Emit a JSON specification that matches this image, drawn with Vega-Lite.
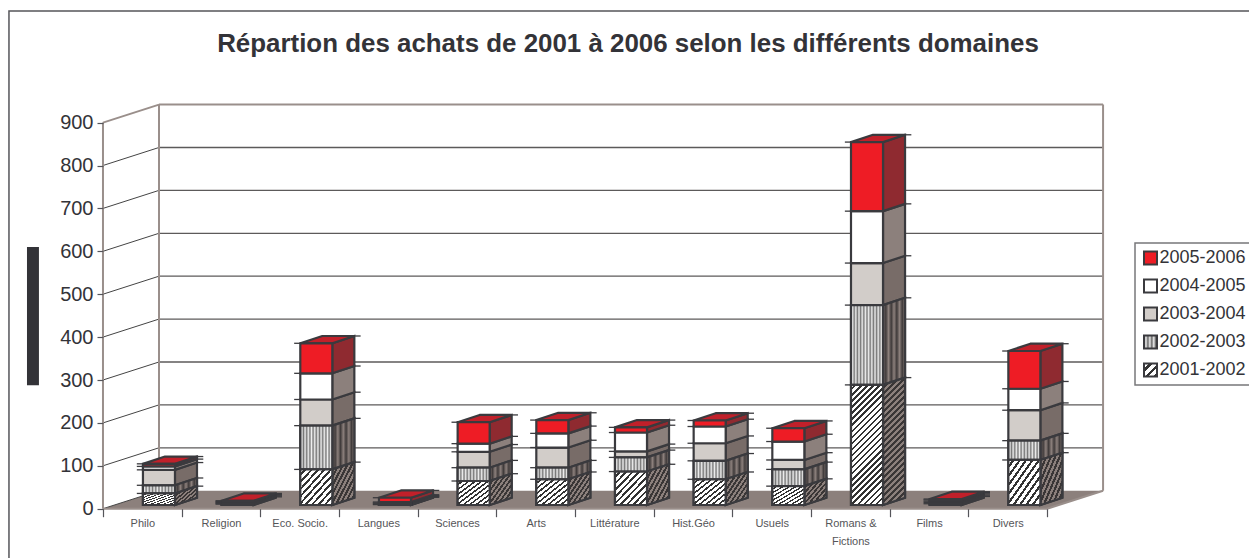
{
"$schema":"https://vega.github.io/schema/vega-lite/v6.json",
"width":1249,"height":558,"padding":0,
"autosize":{"type":"none"},
"background":"white",
"title":{"text":"Répartion des achats de 2001 à 2006 selon les différents domaines","frame":"group","anchor":"middle","orient":"top","offset":-58,"dx":3.5,"font":"Liberation Sans","fontSize":25.9,"fontWeight":"bold","color":"#333338"},
"data":{"name":"bars"},
"transform":[{"stack":"value","groupby":["domain"],"sort":[{"field":"period","order":"ascending"}],"as":["s0","s1"]},
  {"calculate":"[0,1]","as":"d"},{"flatten":["d"]},
  {"calculate":"datum.idx+0.915+datum.d*0.28","as":"sx"},
  {"calculate":"datum.idx+0.508+datum.d*0.28","as":"tx"},
  {"calculate":"datum.s0+8.6+datum.d*17","as":"sy0"},
  {"calculate":"datum.s1+8.6+datum.d*17","as":"sy1"},
  {"calculate":"datum.idx+0.43","as":"la"},{"calculate":"datum.idx+0.508","as":"lb"},
  {"calculate":"datum.idx+1.195","as":"ra"},{"calculate":"datum.idx+1.275","as":"rb"}],
"datasets":{
"bars":[
{"domain":"Philo","idx":0,"period":"2001-2002","value":27},{"domain":"Philo","idx":0,"period":"2002-2003","value":19},{"domain":"Philo","idx":0,"period":"2003-2004","value":36},{"domain":"Philo","idx":0,"period":"2004-2005","value":8},{"domain":"Philo","idx":0,"period":"2005-2006","value":6},
{"domain":"Religion","idx":1,"period":"2001-2002","value":2},{"domain":"Religion","idx":1,"period":"2002-2003","value":2},{"domain":"Religion","idx":1,"period":"2003-2004","value":2},{"domain":"Religion","idx":1,"period":"2004-2005","value":2},{"domain":"Religion","idx":1,"period":"2005-2006","value":2},
{"domain":"Eco. Socio.","idx":2,"period":"2001-2002","value":83},{"domain":"Eco. Socio.","idx":2,"period":"2002-2003","value":102},{"domain":"Eco. Socio.","idx":2,"period":"2003-2004","value":61},{"domain":"Eco. Socio.","idx":2,"period":"2004-2005","value":61},{"domain":"Eco. Socio.","idx":2,"period":"2005-2006","value":70},
{"domain":"Langues","idx":3,"period":"2001-2002","value":1},{"domain":"Langues","idx":3,"period":"2002-2003","value":2},{"domain":"Langues","idx":3,"period":"2003-2004","value":2},{"domain":"Langues","idx":3,"period":"2004-2005","value":2},{"domain":"Langues","idx":3,"period":"2005-2006","value":10},
{"domain":"Sciences","idx":4,"period":"2001-2002","value":56},{"domain":"Sciences","idx":4,"period":"2002-2003","value":31},{"domain":"Sciences","idx":4,"period":"2003-2004","value":37},{"domain":"Sciences","idx":4,"period":"2004-2005","value":19},{"domain":"Sciences","idx":4,"period":"2005-2006","value":50},
{"domain":"Arts","idx":5,"period":"2001-2002","value":60},{"domain":"Arts","idx":5,"period":"2002-2003","value":27},{"domain":"Arts","idx":5,"period":"2003-2004","value":47},{"domain":"Arts","idx":5,"period":"2004-2005","value":33},{"domain":"Arts","idx":5,"period":"2005-2006","value":31},
{"domain":"Littérature","idx":6,"period":"2001-2002","value":78},{"domain":"Littérature","idx":6,"period":"2002-2003","value":33},{"domain":"Littérature","idx":6,"period":"2003-2004","value":14},{"domain":"Littérature","idx":6,"period":"2004-2005","value":44},{"domain":"Littérature","idx":6,"period":"2005-2006","value":12},
{"domain":"Hist.Géo","idx":7,"period":"2001-2002","value":60},{"domain":"Hist.Géo","idx":7,"period":"2002-2003","value":43},{"domain":"Hist.Géo","idx":7,"period":"2003-2004","value":41},{"domain":"Hist.Géo","idx":7,"period":"2004-2005","value":39},{"domain":"Hist.Géo","idx":7,"period":"2005-2006","value":14},
{"domain":"Usuels","idx":8,"period":"2001-2002","value":44},{"domain":"Usuels","idx":8,"period":"2002-2003","value":39},{"domain":"Usuels","idx":8,"period":"2003-2004","value":22},{"domain":"Usuels","idx":8,"period":"2004-2005","value":43},{"domain":"Usuels","idx":8,"period":"2005-2006","value":31},
{"domain":"Romans & Fictions","idx":9,"period":"2001-2002","value":280},{"domain":"Romans & Fictions","idx":9,"period":"2002-2003","value":186},{"domain":"Romans & Fictions","idx":9,"period":"2003-2004","value":98},{"domain":"Romans & Fictions","idx":9,"period":"2004-2005","value":121},{"domain":"Romans & Fictions","idx":9,"period":"2005-2006","value":161},
{"domain":"Films","idx":10,"period":"2001-2002","value":3},{"domain":"Films","idx":10,"period":"2002-2003","value":3},{"domain":"Films","idx":10,"period":"2003-2004","value":3},{"domain":"Films","idx":10,"period":"2004-2005","value":3},{"domain":"Films","idx":10,"period":"2005-2006","value":2},
{"domain":"Divers","idx":11,"period":"2001-2002","value":105},{"domain":"Divers","idx":11,"period":"2002-2003","value":45},{"domain":"Divers","idx":11,"period":"2003-2004","value":71},{"domain":"Divers","idx":11,"period":"2004-2005","value":50},{"domain":"Divers","idx":11,"period":"2005-2006","value":88}
],
"grid":[{"v":0},{"v":100},{"v":200},{"v":300},{"v":400},{"v":500},{"v":600},{"v":700},{"v":800},{"v":900}],
"floor":[{"fy":0,"fx":0,"fx2":12},{"fy":42,"fx":0.712,"fx2":12.712}],
"frame":[{"x":-1.195,"x2":16,"y":1160,"y2":-160}],
"lbox":[{"x":13.118,"x2":16,"y":619.3,"y2":288.3}],
"blk":[{"x":-0.966,"x2":-0.814,"y":610,"y2":288}],
"walls":[{"x":0.712,"x2":0.712,"y":42,"y2":942},{"x":12.712,"x2":12.712,"y":42,"y2":942},{"x":0.712,"x2":12.712,"y":942,"y2":942},{"x":0,"x2":0.712,"y":900,"y2":942},{"x":0,"x2":0,"y":0,"y2":900},{"x":0,"x2":12,"y":0,"y2":0},{"x":12,"x2":12.712,"y":0,"y2":42}]
},
"resolve":{"scale":{"fill":"independent"}},
"layer":[
{"data":{"name":"frame"},"mark":{"type":"rect","fill":"white","stroke":"#55555a","strokeWidth":1.5},
 "encoding":{
  "x":{"field":"x","type":"quantitative","title":null,"scale":{"domain":[-1.309,14.567],"nice":false,"zero":false},
   "axis":{"zindex":1,"values":[0,0.5,1,1.5,2,2.5,3,3.5,4,4.5,5,5.5,6,6.5,7,7.5,8,8.5,9,9.5,10,10.5,11,11.5,12],"orient":"bottom","offset":-49.3,"domain":false,"grid":false,"tickSize":8,"tickColor":"#55555a","tickWidth":1.2,"tickOpacity":{"condition":{"test":"datum.value%1==0","value":1},"value":0},"labelAngle":0,"labelOverlap":false,"labelBound":false,"labelFlush":false,"labelPadding":1,"labelFont":"Liberation Sans","labelFontSize":11,"labelColor":"#555558","labelLineHeight":18,"labelExpr":"datum.value%1==0 ? '' : ['Philo','Religion','Eco. Socio.','Langues','Sciences','Arts','Littérature','Hist.Géo','Usuels',['Romans &','Fictions'],'Films','Divers'][floor(datum.value)]"}},
  "x2":{"field":"x2"},
  "y":{"field":"y","type":"quantitative","title":null,"scale":{"domain":[-114.9,1185.8],"nice":false,"zero":false},
   "axis":{"zindex":1,"values":[0,100,200,300,400,500,600,700,800,900],"orient":"left","offset":-103,"domain":false,"grid":false,"tickSize":6,"tickColor":"#55555a","tickWidth":1.2,"labelFont":"Liberation Sans","labelFontSize":20,"labelColor":"#333338","labelPadding":4,"labelBound":false,"labelFlush":false,"labelOverlap":false}},
  "y2":{"field":"y2"}}},
{"data":{"name":"lbox"},"mark":{"type":"rect","fill":"white","stroke":"#77777a","strokeWidth":1.5},
 "encoding":{"x":{"field":"x","type":"quantitative","title":null,"scale":{"domain":[-1.309,14.567],"nice":false,"zero":false}},"x2":{"field":"x2"},"y":{"field":"y","type":"quantitative","title":null,"scale":{"domain":[-114.9,1185.8],"nice":false,"zero":false}},"y2":{"field":"y2"}}},
{"data":{"name":"blk"},"mark":{"type":"rect","fill":"#333338"},
 "encoding":{"x":{"field":"x","type":"quantitative","title":null,"scale":{"domain":[-1.309,14.567],"nice":false,"zero":false}},"x2":{"field":"x2"},"y":{"field":"y","type":"quantitative","title":null,"scale":{"domain":[-114.9,1185.8],"nice":false,"zero":false}},"y2":{"field":"y2"}}},
{"data":{"name":"floor"},"mark":{"type":"area","orient":"horizontal","fill":"#8c807c"},
 "encoding":{"y":{"field":"fy","type":"quantitative","title":null,"scale":{"domain":[-114.9,1185.8],"nice":false,"zero":false}},"x":{"field":"fx","type":"quantitative","title":null,"scale":{"domain":[-1.309,14.567],"nice":false,"zero":false}},"x2":{"field":"fx2"}}},
{"data":{"name":"grid"},"transform":[{"filter":"datum.v>0 && datum.v<900"},{"calculate":"datum.v+42","as":"bv"},{"calculate":"0.712","as":"a"},{"calculate":"12.712","as":"b"}],"mark":{"type":"rule","stroke":"#5c5a5a","strokeWidth":1.3},
 "encoding":{"x":{"field":"a","type":"quantitative","title":null,"scale":{"domain":[-1.309,14.567],"nice":false,"zero":false}},"x2":{"field":"b"},"y":{"field":"bv","type":"quantitative","title":null,"scale":{"domain":[-114.9,1185.8],"nice":false,"zero":false}}}},
{"data":{"name":"grid"},"transform":[{"filter":"datum.v<900"},{"calculate":"datum.v+42","as":"bv"},{"calculate":"0","as":"a"},{"calculate":"0.712","as":"b"}],"mark":{"type":"rule","stroke":"#444444","strokeWidth":1},
 "encoding":{"x":{"field":"a","type":"quantitative","title":null,"scale":{"domain":[-1.309,14.567],"nice":false,"zero":false}},"x2":{"field":"b"},"y":{"field":"v","type":"quantitative","title":null,"scale":{"domain":[-114.9,1185.8],"nice":false,"zero":false}},"y2":{"field":"bv"}}},
{"data":{"name":"walls"},"mark":{"type":"rule","stroke":"#9a8f8b","strokeWidth":2},
 "encoding":{"x":{"field":"x","type":"quantitative","title":null,"scale":{"domain":[-1.309,14.567],"nice":false,"zero":false}},"x2":{"field":"x2"},"y":{"field":"y","type":"quantitative","title":null,"scale":{"domain":[-114.9,1185.8],"nice":false,"zero":false}},"y2":{"field":"y2"}}},
{"mark":{"type":"area","stroke":"#3a3a3e","strokeWidth":2.2},
 "encoding":{"x":{"field":"sx","type":"quantitative","title":null,"scale":{"domain":[-1.309,14.567],"nice":false,"zero":false}},
  "y":{"field":"sy1","type":"quantitative","title":null,"scale":{"domain":[-114.9,1185.8],"nice":false,"zero":false}},"y2":{"field":"sy0"},
  "detail":{"field":"domain"},
  "fill":{"field":"period","type":"nominal","legend":null,"scale":{"domain":["2005-2006","2004-2005","2003-2004","2002-2003","2001-2002"],"range":["#8f2a30","#8c807c","#786c68","#6a605c","#6a605c"]}}}},
{"transform":[{"filter":"datum.period=='2002-2003'"}],
 "mark":{"type":"area","stroke":"#3a3a3e","strokeWidth":2.2,"fill":{"gradient":"linear","x1":0,"y1":0,"x2":1,"y2":0,"stops":[{"offset":0,"color":"#8c807c"},{"offset":0.125,"color":"#3f3a3a"},{"offset":0.25,"color":"#8c807c"},{"offset":0.375,"color":"#3f3a3a"},{"offset":0.5,"color":"#8c807c"},{"offset":0.625,"color":"#3f3a3a"},{"offset":0.75,"color":"#8c807c"},{"offset":0.875,"color":"#3f3a3a"},{"offset":1,"color":"#8c807c"}]}},
 "encoding":{"x":{"field":"sx","type":"quantitative","title":null,"scale":{"domain":[-1.309,14.567],"nice":false,"zero":false}},"y":{"field":"sy1","type":"quantitative","title":null,"scale":{"domain":[-114.9,1185.8],"nice":false,"zero":false}},"y2":{"field":"sy0"},"detail":{"field":"domain"}}},
{"transform":[{"filter":"datum.period=='2001-2002' && datum.idx!=9"}],
 "mark":{"type":"area","stroke":"#3a3a3e","strokeWidth":2.2,"fill":{"gradient":"linear","x1":0,"y1":0,"x2":1,"y2":1,"stops":[{"offset":0,"color":"#8c807c"},{"offset":0.05,"color":"#8c807c"},{"offset":0.05,"color":"#3a3636"},{"offset":0.1,"color":"#3a3636"},{"offset":0.1,"color":"#8c807c"},{"offset":0.15,"color":"#8c807c"},{"offset":0.15,"color":"#3a3636"},{"offset":0.2,"color":"#3a3636"},{"offset":0.2,"color":"#8c807c"},{"offset":0.25,"color":"#8c807c"},{"offset":0.25,"color":"#3a3636"},{"offset":0.3,"color":"#3a3636"},{"offset":0.3,"color":"#8c807c"},{"offset":0.35,"color":"#8c807c"},{"offset":0.35,"color":"#3a3636"},{"offset":0.4,"color":"#3a3636"},{"offset":0.4,"color":"#8c807c"},{"offset":0.45,"color":"#8c807c"},{"offset":0.45,"color":"#3a3636"},{"offset":0.5,"color":"#3a3636"},{"offset":0.5,"color":"#8c807c"},{"offset":0.55,"color":"#8c807c"},{"offset":0.55,"color":"#3a3636"},{"offset":0.6,"color":"#3a3636"},{"offset":0.6,"color":"#8c807c"},{"offset":0.65,"color":"#8c807c"},{"offset":0.65,"color":"#3a3636"},{"offset":0.7,"color":"#3a3636"},{"offset":0.7,"color":"#8c807c"},{"offset":0.75,"color":"#8c807c"},{"offset":0.75,"color":"#3a3636"},{"offset":0.8,"color":"#3a3636"},{"offset":0.8,"color":"#8c807c"},{"offset":0.85,"color":"#8c807c"},{"offset":0.85,"color":"#3a3636"},{"offset":0.9,"color":"#3a3636"},{"offset":0.9,"color":"#8c807c"},{"offset":0.95,"color":"#8c807c"},{"offset":0.95,"color":"#3a3636"},{"offset":1,"color":"#3a3636"}]}},
 "encoding":{"x":{"field":"sx","type":"quantitative","title":null,"scale":{"domain":[-1.309,14.567],"nice":false,"zero":false}},"y":{"field":"sy1","type":"quantitative","title":null,"scale":{"domain":[-114.9,1185.8],"nice":false,"zero":false}},"y2":{"field":"sy0"},"detail":{"field":"domain"}}},
{"transform":[{"filter":"datum.period=='2001-2002' && datum.idx==9"}],
 "mark":{"type":"area","stroke":"#3a3a3e","strokeWidth":2.2,"fill":{"gradient":"linear","x1":0,"y1":0,"x2":0.197,"y2":1.139,"stops":[{"offset":0,"color":"#8c807c"},{"offset":0.02,"color":"#8c807c"},{"offset":0.02,"color":"#3a3636"},{"offset":0.04,"color":"#3a3636"},{"offset":0.04,"color":"#8c807c"},{"offset":0.06,"color":"#8c807c"},{"offset":0.06,"color":"#3a3636"},{"offset":0.08,"color":"#3a3636"},{"offset":0.08,"color":"#8c807c"},{"offset":0.1,"color":"#8c807c"},{"offset":0.1,"color":"#3a3636"},{"offset":0.12,"color":"#3a3636"},{"offset":0.12,"color":"#8c807c"},{"offset":0.14,"color":"#8c807c"},{"offset":0.14,"color":"#3a3636"},{"offset":0.16,"color":"#3a3636"},{"offset":0.16,"color":"#8c807c"},{"offset":0.18,"color":"#8c807c"},{"offset":0.18,"color":"#3a3636"},{"offset":0.2,"color":"#3a3636"},{"offset":0.2,"color":"#8c807c"},{"offset":0.22,"color":"#8c807c"},{"offset":0.22,"color":"#3a3636"},{"offset":0.24,"color":"#3a3636"},{"offset":0.24,"color":"#8c807c"},{"offset":0.26,"color":"#8c807c"},{"offset":0.26,"color":"#3a3636"},{"offset":0.28,"color":"#3a3636"},{"offset":0.28,"color":"#8c807c"},{"offset":0.3,"color":"#8c807c"},{"offset":0.3,"color":"#3a3636"},{"offset":0.32,"color":"#3a3636"},{"offset":0.32,"color":"#8c807c"},{"offset":0.34,"color":"#8c807c"},{"offset":0.34,"color":"#3a3636"},{"offset":0.36,"color":"#3a3636"},{"offset":0.36,"color":"#8c807c"},{"offset":0.38,"color":"#8c807c"},{"offset":0.38,"color":"#3a3636"},{"offset":0.4,"color":"#3a3636"},{"offset":0.4,"color":"#8c807c"},{"offset":0.42,"color":"#8c807c"},{"offset":0.42,"color":"#3a3636"},{"offset":0.44,"color":"#3a3636"},{"offset":0.44,"color":"#8c807c"},{"offset":0.46,"color":"#8c807c"},{"offset":0.46,"color":"#3a3636"},{"offset":0.48,"color":"#3a3636"},{"offset":0.48,"color":"#8c807c"},{"offset":0.5,"color":"#8c807c"},{"offset":0.5,"color":"#3a3636"},{"offset":0.52,"color":"#3a3636"},{"offset":0.52,"color":"#8c807c"},{"offset":0.54,"color":"#8c807c"},{"offset":0.54,"color":"#3a3636"},{"offset":0.56,"color":"#3a3636"},{"offset":0.56,"color":"#8c807c"},{"offset":0.58,"color":"#8c807c"},{"offset":0.58,"color":"#3a3636"},{"offset":0.6,"color":"#3a3636"},{"offset":0.6,"color":"#8c807c"},{"offset":0.62,"color":"#8c807c"},{"offset":0.62,"color":"#3a3636"},{"offset":0.64,"color":"#3a3636"},{"offset":0.64,"color":"#8c807c"},{"offset":0.66,"color":"#8c807c"},{"offset":0.66,"color":"#3a3636"},{"offset":0.68,"color":"#3a3636"},{"offset":0.68,"color":"#8c807c"},{"offset":0.7,"color":"#8c807c"},{"offset":0.7,"color":"#3a3636"},{"offset":0.72,"color":"#3a3636"},{"offset":0.72,"color":"#8c807c"},{"offset":0.74,"color":"#8c807c"},{"offset":0.74,"color":"#3a3636"},{"offset":0.76,"color":"#3a3636"},{"offset":0.76,"color":"#8c807c"},{"offset":0.78,"color":"#8c807c"},{"offset":0.78,"color":"#3a3636"},{"offset":0.8,"color":"#3a3636"},{"offset":0.8,"color":"#8c807c"},{"offset":0.82,"color":"#8c807c"},{"offset":0.82,"color":"#3a3636"},{"offset":0.84,"color":"#3a3636"},{"offset":0.84,"color":"#8c807c"},{"offset":0.86,"color":"#8c807c"},{"offset":0.86,"color":"#3a3636"},{"offset":0.88,"color":"#3a3636"},{"offset":0.88,"color":"#8c807c"},{"offset":0.9,"color":"#8c807c"},{"offset":0.9,"color":"#3a3636"},{"offset":0.92,"color":"#3a3636"},{"offset":0.92,"color":"#8c807c"},{"offset":0.94,"color":"#8c807c"},{"offset":0.94,"color":"#3a3636"},{"offset":0.96,"color":"#3a3636"},{"offset":0.96,"color":"#8c807c"},{"offset":0.98,"color":"#8c807c"},{"offset":0.98,"color":"#3a3636"},{"offset":1,"color":"#3a3636"}]}},
 "encoding":{"x":{"field":"sx","type":"quantitative","title":null,"scale":{"domain":[-1.309,14.567],"nice":false,"zero":false}},"y":{"field":"sy1","type":"quantitative","title":null,"scale":{"domain":[-114.9,1185.8],"nice":false,"zero":false}},"y2":{"field":"sy0"},"detail":{"field":"domain"}}},
{"transform":[{"filter":"datum.period=='2005-2006'"},{"calculate":"datum.tx+0.407","as":"tx2"}],
 "mark":{"type":"area","orient":"horizontal","fill":"#c1202a","stroke":"#3a3a3e","strokeWidth":2.2},
 "encoding":{"y":{"field":"sy1","type":"quantitative","title":null,"scale":{"domain":[-114.9,1185.8],"nice":false,"zero":false}},"x":{"field":"tx","type":"quantitative","title":null,"scale":{"domain":[-1.309,14.567],"nice":false,"zero":false}},"x2":{"field":"tx2"},"detail":{"field":"domain"}}},
{"transform":[{"filter":"datum.d==0"},{"calculate":"datum.tx+0.407","as":"tx2"}],
 "mark":{"type":"rect","stroke":"#3a3a3e","strokeWidth":2.2},
 "encoding":{"x":{"field":"tx","type":"quantitative","title":null,"scale":{"domain":[-1.309,14.567],"nice":false,"zero":false}},"x2":{"field":"tx2"},
  "y":{"field":"sy1","type":"quantitative","title":null,"scale":{"domain":[-114.9,1185.8],"nice":false,"zero":false}},"y2":{"field":"sy0"},
  "fill":{"field":"period","type":"nominal","legend":null,
   "scale":{"domain":["2005-2006","2004-2005","2003-2004","2002-2003","2001-2002"],"range":["#ee1c25","#ffffff","#d2cdc9","#aaaaaa","#ffffff"]}}}},
{"transform":[{"filter":"datum.d==0 && datum.period=='2002-2003'"},{"calculate":"datum.tx+0.407","as":"tx2"}],
 "mark":{"type":"rect","stroke":"#3a3a3e","strokeWidth":2.2,"fill":{"gradient":"linear","x1":0,"y1":0,"x2":1,"y2":0,"stops":[{"offset":0,"color":"#777777"},{"offset":0.05,"color":"#eeeeee"},{"offset":0.1,"color":"#777777"},{"offset":0.15,"color":"#eeeeee"},{"offset":0.2,"color":"#777777"},{"offset":0.25,"color":"#eeeeee"},{"offset":0.3,"color":"#777777"},{"offset":0.35,"color":"#eeeeee"},{"offset":0.4,"color":"#777777"},{"offset":0.45,"color":"#eeeeee"},{"offset":0.5,"color":"#777777"},{"offset":0.55,"color":"#eeeeee"},{"offset":0.6,"color":"#777777"},{"offset":0.65,"color":"#eeeeee"},{"offset":0.7,"color":"#777777"},{"offset":0.75,"color":"#eeeeee"},{"offset":0.8,"color":"#777777"},{"offset":0.85,"color":"#eeeeee"},{"offset":0.9,"color":"#777777"},{"offset":0.95,"color":"#eeeeee"},{"offset":1,"color":"#777777"}]}},
 "encoding":{"x":{"field":"tx","type":"quantitative","title":null,"scale":{"domain":[-1.309,14.567],"nice":false,"zero":false}},"x2":{"field":"tx2"},"y":{"field":"sy1","type":"quantitative","title":null,"scale":{"domain":[-114.9,1185.8],"nice":false,"zero":false}},"y2":{"field":"sy0"}}},
{"transform":[{"filter":"datum.d==0 && datum.period=='2001-2002' && datum.idx!=9"},{"calculate":"datum.tx+0.407","as":"tx2"}],
 "mark":{"type":"rect","stroke":"#3a3a3e","strokeWidth":2.2,"fill":{"gradient":"linear","x1":0,"y1":0,"x2":1,"y2":1,"stops":[{"offset":0,"color":"#ffffff"},{"offset":0.06,"color":"#ffffff"},{"offset":0.06,"color":"#333333"},{"offset":0.1,"color":"#333333"},{"offset":0.1,"color":"#ffffff"},{"offset":0.16,"color":"#ffffff"},{"offset":0.16,"color":"#333333"},{"offset":0.2,"color":"#333333"},{"offset":0.2,"color":"#ffffff"},{"offset":0.26,"color":"#ffffff"},{"offset":0.26,"color":"#333333"},{"offset":0.3,"color":"#333333"},{"offset":0.3,"color":"#ffffff"},{"offset":0.36,"color":"#ffffff"},{"offset":0.36,"color":"#333333"},{"offset":0.4,"color":"#333333"},{"offset":0.4,"color":"#ffffff"},{"offset":0.46,"color":"#ffffff"},{"offset":0.46,"color":"#333333"},{"offset":0.5,"color":"#333333"},{"offset":0.5,"color":"#ffffff"},{"offset":0.56,"color":"#ffffff"},{"offset":0.56,"color":"#333333"},{"offset":0.6,"color":"#333333"},{"offset":0.6,"color":"#ffffff"},{"offset":0.66,"color":"#ffffff"},{"offset":0.66,"color":"#333333"},{"offset":0.7,"color":"#333333"},{"offset":0.7,"color":"#ffffff"},{"offset":0.76,"color":"#ffffff"},{"offset":0.76,"color":"#333333"},{"offset":0.8,"color":"#333333"},{"offset":0.8,"color":"#ffffff"},{"offset":0.86,"color":"#ffffff"},{"offset":0.86,"color":"#333333"},{"offset":0.9,"color":"#333333"},{"offset":0.9,"color":"#ffffff"},{"offset":0.96,"color":"#ffffff"},{"offset":0.96,"color":"#333333"},{"offset":1,"color":"#333333"}]}},
 "encoding":{"x":{"field":"tx","type":"quantitative","title":null,"scale":{"domain":[-1.309,14.567],"nice":false,"zero":false}},"x2":{"field":"tx2"},"y":{"field":"sy1","type":"quantitative","title":null,"scale":{"domain":[-114.9,1185.8],"nice":false,"zero":false}},"y2":{"field":"sy0"}}},
{"transform":[{"filter":"datum.d==0 && datum.period=='2001-2002' && datum.idx==9"},{"calculate":"datum.tx+0.407","as":"tx2"}],
 "mark":{"type":"rect","stroke":"#3a3a3e","strokeWidth":2.2,"fill":{"gradient":"linear","x1":0,"y1":0,"x2":0.315,"y2":1.18,"stops":[{"offset":0,"color":"#ffffff"},{"offset":0.024,"color":"#ffffff"},{"offset":0.024,"color":"#333333"},{"offset":0.04,"color":"#333333"},{"offset":0.04,"color":"#ffffff"},{"offset":0.064,"color":"#ffffff"},{"offset":0.064,"color":"#333333"},{"offset":0.08,"color":"#333333"},{"offset":0.08,"color":"#ffffff"},{"offset":0.104,"color":"#ffffff"},{"offset":0.104,"color":"#333333"},{"offset":0.12,"color":"#333333"},{"offset":0.12,"color":"#ffffff"},{"offset":0.144,"color":"#ffffff"},{"offset":0.144,"color":"#333333"},{"offset":0.16,"color":"#333333"},{"offset":0.16,"color":"#ffffff"},{"offset":0.184,"color":"#ffffff"},{"offset":0.184,"color":"#333333"},{"offset":0.2,"color":"#333333"},{"offset":0.2,"color":"#ffffff"},{"offset":0.224,"color":"#ffffff"},{"offset":0.224,"color":"#333333"},{"offset":0.24,"color":"#333333"},{"offset":0.24,"color":"#ffffff"},{"offset":0.264,"color":"#ffffff"},{"offset":0.264,"color":"#333333"},{"offset":0.28,"color":"#333333"},{"offset":0.28,"color":"#ffffff"},{"offset":0.304,"color":"#ffffff"},{"offset":0.304,"color":"#333333"},{"offset":0.32,"color":"#333333"},{"offset":0.32,"color":"#ffffff"},{"offset":0.344,"color":"#ffffff"},{"offset":0.344,"color":"#333333"},{"offset":0.36,"color":"#333333"},{"offset":0.36,"color":"#ffffff"},{"offset":0.384,"color":"#ffffff"},{"offset":0.384,"color":"#333333"},{"offset":0.4,"color":"#333333"},{"offset":0.4,"color":"#ffffff"},{"offset":0.424,"color":"#ffffff"},{"offset":0.424,"color":"#333333"},{"offset":0.44,"color":"#333333"},{"offset":0.44,"color":"#ffffff"},{"offset":0.464,"color":"#ffffff"},{"offset":0.464,"color":"#333333"},{"offset":0.48,"color":"#333333"},{"offset":0.48,"color":"#ffffff"},{"offset":0.504,"color":"#ffffff"},{"offset":0.504,"color":"#333333"},{"offset":0.52,"color":"#333333"},{"offset":0.52,"color":"#ffffff"},{"offset":0.544,"color":"#ffffff"},{"offset":0.544,"color":"#333333"},{"offset":0.56,"color":"#333333"},{"offset":0.56,"color":"#ffffff"},{"offset":0.584,"color":"#ffffff"},{"offset":0.584,"color":"#333333"},{"offset":0.6,"color":"#333333"},{"offset":0.6,"color":"#ffffff"},{"offset":0.624,"color":"#ffffff"},{"offset":0.624,"color":"#333333"},{"offset":0.64,"color":"#333333"},{"offset":0.64,"color":"#ffffff"},{"offset":0.664,"color":"#ffffff"},{"offset":0.664,"color":"#333333"},{"offset":0.68,"color":"#333333"},{"offset":0.68,"color":"#ffffff"},{"offset":0.704,"color":"#ffffff"},{"offset":0.704,"color":"#333333"},{"offset":0.72,"color":"#333333"},{"offset":0.72,"color":"#ffffff"},{"offset":0.744,"color":"#ffffff"},{"offset":0.744,"color":"#333333"},{"offset":0.76,"color":"#333333"},{"offset":0.76,"color":"#ffffff"},{"offset":0.784,"color":"#ffffff"},{"offset":0.784,"color":"#333333"},{"offset":0.8,"color":"#333333"},{"offset":0.8,"color":"#ffffff"},{"offset":0.824,"color":"#ffffff"},{"offset":0.824,"color":"#333333"},{"offset":0.84,"color":"#333333"},{"offset":0.84,"color":"#ffffff"},{"offset":0.864,"color":"#ffffff"},{"offset":0.864,"color":"#333333"},{"offset":0.88,"color":"#333333"},{"offset":0.88,"color":"#ffffff"},{"offset":0.904,"color":"#ffffff"},{"offset":0.904,"color":"#333333"},{"offset":0.92,"color":"#333333"},{"offset":0.92,"color":"#ffffff"},{"offset":0.944,"color":"#ffffff"},{"offset":0.944,"color":"#333333"},{"offset":0.96,"color":"#333333"},{"offset":0.96,"color":"#ffffff"},{"offset":0.984,"color":"#ffffff"},{"offset":0.984,"color":"#333333"},{"offset":1,"color":"#333333"}]}},
 "encoding":{"x":{"field":"tx","type":"quantitative","title":null,"scale":{"domain":[-1.309,14.567],"nice":false,"zero":false}},"x2":{"field":"tx2"},"y":{"field":"sy1","type":"quantitative","title":null,"scale":{"domain":[-114.9,1185.8],"nice":false,"zero":false}},"y2":{"field":"sy0"}}},
{"transform":[{"filter":"datum.d==0"}],
 "mark":{"type":"rule","stroke":"#3a3a3e","strokeWidth":1.3},
 "encoding":{"x":{"field":"la","type":"quantitative","title":null,"scale":{"domain":[-1.309,14.567],"nice":false,"zero":false}},"x2":{"field":"lb"},"y":{"field":"sy1","type":"quantitative","title":null,"scale":{"domain":[-114.9,1185.8],"nice":false,"zero":false}}}},
{"transform":[{"filter":"datum.d==1"}],
 "mark":{"type":"rule","stroke":"#3a3a3e","strokeWidth":1.3},
 "encoding":{"x":{"field":"ra","type":"quantitative","title":null,"scale":{"domain":[-1.309,14.567],"nice":false,"zero":false}},"x2":{"field":"rb"},"y":{"field":"sy1","type":"quantitative","title":null,"scale":{"domain":[-114.9,1185.8],"nice":false,"zero":false}}}},
{"transform":[{"filter":"datum.d==0"}],
 "mark":{"type":"point","size":0,"filled":true,"opacity":0.001},
 "encoding":{"x":{"field":"tx","type":"quantitative","title":null,"scale":{"domain":[-1.309,14.567],"nice":false,"zero":false}},
  "y":{"field":"sy1","type":"quantitative","title":null,"scale":{"domain":[-114.9,1185.8],"nice":false,"zero":false}},
  "shape":{"field":"period","type":"nominal",
   "scale":{"domain":["2005-2006","2004-2005","2003-2004","2002-2003","2001-2002"],"range":["square","square","square","square","square"]},
   "legend":{"title":null,"orient":"none","legendX":1141.5,"legendY":249,"symbolSize":169,"labelFont":"Liberation Sans","labelFontSize":18,"labelColor":"#333338","labelOffset":0,"rowPadding":6,"padding":0,
    "encoding":{"symbols":{"opacity":{"value":1},"stroke":{"value":"#3a3a3e"},"strokeWidth":{"value":2},"fill":{"value":{"expr":"datum.value=='2005-2006' ? '#ee1c25' : datum.value=='2004-2005' ? '#ffffff' : datum.value=='2003-2004' ? '#d2cdc9' : datum.value=='2002-2003' ? {gradient:'linear',x1:0,y1:0,x2:1,y2:0,stops:[{offset:0,color:'#666666'},{offset:0.15,color:'#eeeeee'},{offset:0.3,color:'#666666'},{offset:0.45,color:'#eeeeee'},{offset:0.6,color:'#666666'},{offset:0.75,color:'#eeeeee'},{offset:0.9,color:'#666666'},{offset:1,color:'#eeeeee'}]} : {gradient:'linear',x1:0,y1:0,x2:1,y2:1,stops:[{offset:0,color:'#ffffff'},{offset:0.2,color:'#ffffff'},{offset:0.2,color:'#333333'},{offset:0.33,color:'#333333'},{offset:0.33,color:'#ffffff'},{offset:0.53,color:'#ffffff'},{offset:0.53,color:'#333333'},{offset:0.66,color:'#333333'},{offset:0.66,color:'#ffffff'},{offset:0.86,color:'#ffffff'},{offset:0.86,color:'#333333'},{offset:1,color:'#333333'}]}"}}}}}}}}
],
"config":{"view":{"stroke":null}}
}
